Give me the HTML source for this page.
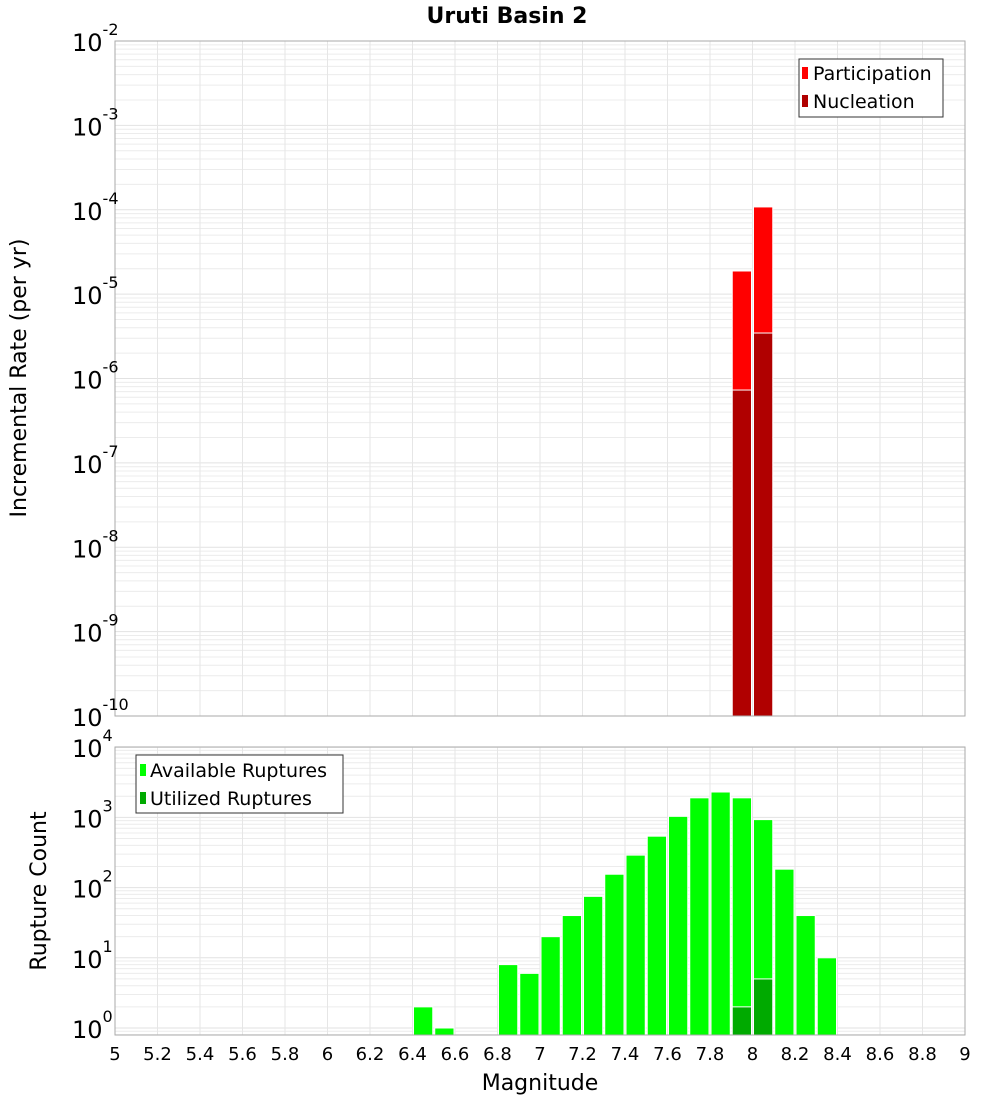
<!DOCTYPE html>
<html><head><meta charset="utf-8"><style>
body{margin:0;background:#fff;}
svg{display:block;font-family:"DejaVu Sans","Liberation Sans",sans-serif;}
</style></head><body>
<svg id="chart" width="1000" height="1100" xmlns="http://www.w3.org/2000/svg">
<text x="507" y="23" text-anchor="middle" font-size="22" font-weight="bold">Uruti Basin 2</text>
<g id="topPanel"></g>
<g id="botPanel"></g>
<text transform="translate(26,378) rotate(-90)" text-anchor="middle" font-size="22">Incremental Rate (per yr)</text>
<text transform="translate(46,891) rotate(-90)" text-anchor="middle" font-size="22">Rupture Count</text>
<text x="540" y="1090" text-anchor="middle" font-size="22">Magnitude</text>
<g>
<rect x="799" y="59" width="144" height="58" fill="#fff" stroke="#333"/>
<rect x="802" y="67" width="6" height="12" fill="#ff0000"/>
<text x="813" y="80" font-size="19">Participation</text>
<rect x="802" y="95" width="6" height="12" fill="#b00000"/>
<text x="813" y="108" font-size="19">Nucleation</text>
</g>
<g>
<rect x="136" y="755" width="207" height="58" fill="#fff" stroke="#333"/>
<rect x="140" y="764" width="6" height="12" fill="#00ff00"/>
<text x="150" y="777" font-size="19">Available Ruptures</text>
<rect x="140" y="792" width="6" height="12" fill="#00aa00"/>
<text x="150" y="805" font-size="19">Utilized Ruptures</text>
</g>
</svg>
<script>
const magBins=[6.45,6.55,6.85,6.95,7.05,7.15,7.25,7.35,7.45,7.55,7.65,7.75,7.85,7.95,8.05,8.15,8.25,8.35];
const availableCounts=[2,1,8,6,20,40,75,155,290,540,1035,1900,2300,1900,930,183,40,10];
const utilizedBins=[7.95,8.05];
const utilizedCounts=[2,5];
const rateBins=[7.95,8.05];
const participationRates=[1.88e-5,1.08e-4];
const nucleationRates=[7.3e-7,3.46e-6];
const xTicks=[5,5.2,5.4,5.6,5.8,6,6.2,6.4,6.6,6.8,7,7.2,7.4,7.6,7.8,8,8.2,8.4,8.6,8.8,9];
const xTickLabels=["5","5.2","5.4","5.6","5.8","6","6.2","6.4","6.6","6.8","7","7.2","7.4","7.6","7.8","8","8.2","8.4","8.6","8.8","9"];
const topYExps=[-2,-3,-4,-5,-6,-7,-8,-9,-10];
const botYExps=[4,3,2,1,0];

const NS="http://www.w3.org/2000/svg";
const X0=115,X1=965;
const xs=m=>X0+(m-5)/4*(X1-X0);
const T0=41,T1=716;
const yTop=v=>T0+(-2-Math.log10(v))*(T1-T0)/8;
const B0=747,B1=1035;
const yBot=v=>1028-Math.log10(v)*70.2;
function mk(parent,tag,attrs){const e=document.createElementNS(NS,tag);for(const k in attrs)e.setAttribute(k,attrs[k]);parent.appendChild(e);return e;}

function panel(g,y0,y1,loExp,hiExp,yf){
  mk(g,'rect',{x:X0,y:y0,width:X1-X0,height:y1-y0,fill:'#fff'});
  for(let e=loExp-1;e<=hiExp;e++){for(let k=1;k<10;k++){const v=k*Math.pow(10,e);const y=yf(v);if(y<y0||y>y1)continue;
    const l=mk(g,'line',{x1:X0,x2:X1,y1:y,y2:y,stroke:k==1?'#e2e2e2':'#ececec','stroke-width':1});
    
    }}
  xTicks.forEach(t=>{const x=xs(t);const l=mk(g,'line',{x1:x,x2:x,y1:y0,y2:y1,stroke:'#e6e6e6'});
    
    });
}
const gTop=document.getElementById('topPanel'),gBot=document.getElementById('botPanel');
panel(gTop,T0,T1,-10,-2,yTop);
panel(gBot,B0,B1,-1,4,yBot);

function bar(g,m,v,yf,base,fill,name){const x=xs(m-0.05),w=xs(m+0.05)-x;const y=Math.max(yf(v),0);
  const r=mk(g,'rect',{x:x+1,y:y,width:w-2,height:base-y,fill:fill,stroke:'#fff','stroke-width':1});
  
  }
rateBins.forEach((m,i)=>bar(gTop,m,participationRates[i],yTop,T1,'#ff0000','participation-bar'));
rateBins.forEach((m,i)=>bar(gTop,m,nucleationRates[i],yTop,T1,'#b00000','nucleation-bar'));
magBins.forEach((m,i)=>bar(gBot,m,availableCounts[i],yBot,B1,'#00ff00','available-bar'));
utilizedBins.forEach((m,i)=>bar(gBot,m,utilizedCounts[i],yBot,B1,'#00aa00','utilized-bar'));

mk(gTop,'rect',{x:X0,y:T0,width:X1-X0,height:T1-T0,fill:'none',stroke:'#aaa'});
mk(gBot,'rect',{x:X0,y:B0,width:X1-X0,height:B1-B0,fill:'none',stroke:'#aaa'});

function ylab(g,e,y){const t=mk(g,'text',{x:72,y:y+10,'font-size':24});
  
  
  t.textContent='10';const s=mk(t,'tspan',{dy:-16,'font-size':16});s.textContent=String(e);}
topYExps.forEach(e=>ylab(gTop,e,yTop(Math.pow(10,e))));
botYExps.forEach(e=>ylab(gBot,e,yBot(Math.pow(10,e))));
xTicks.forEach((t,i)=>{const tx=mk(gBot,'text',{x:xs(t),y:1060,'text-anchor':'middle','font-size':18});
  
  
  tx.textContent=xTickLabels[i];});
</script>
</body></html>
